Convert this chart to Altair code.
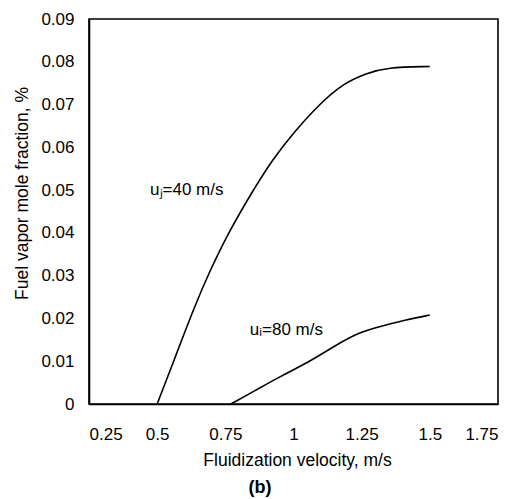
import altair as alt
import pandas as pd

# u_j = 40 m/s curve
x40 = [0.5, 0.572, 0.632, 0.694, 0.767, 0.852, 0.926, 0.999, 1.085, 1.183, 1.268, 1.341, 1.5]
y40 = [0.0, 0.0119, 0.022, 0.0313, 0.0407, 0.050, 0.0574, 0.0633, 0.0695, 0.075, 0.0773, 0.0787, 0.0789]
# u_i = 80 m/s curve
x80 = [0.77, 0.853, 0.95, 1.048, 1.146, 1.243, 1.341, 1.409, 1.5]
y80 = [0.0, 0.0029, 0.0064, 0.0095, 0.0134, 0.0169, 0.0185, 0.0196, 0.0208]

x_ticks = [0.25, 0.5, 0.75, 1, 1.25, 1.5, 1.75]
y_ticks = [0, 0.01, 0.02, 0.03, 0.04, 0.05, 0.06, 0.07, 0.08, 0.09]

label_text = ["u\u2c7c=40 m/s", "u\u1d62=80 m/s"]
label_x = [0.474, 0.84]
label_y = [0.050, 0.0173]

panel_label = ["(b)"]

FONT = "Liberation Sans"

rows = []
for xv, yv in zip(x40, y40):
    rows.append({"x": xv, "y": yv, "series": "40"})
for xv, yv in zip(x80, y80):
    rows.append({"x": xv, "y": yv, "series": "80"})
df = pd.DataFrame(rows)

lab_df = pd.DataFrame({"x": label_x, "y": label_y, "t": label_text})
pan_df = pd.DataFrame({"t": panel_label})

xscale = alt.Scale(domain=[0.25, 1.75], nice=False, zero=False)
yscale = alt.Scale(domain=[0, 0.09], nice=False)

lines = alt.Chart(df).mark_line(color="black", strokeWidth=1.6, interpolate="basis").encode(
    x=alt.X("x:Q", scale=xscale,
            axis=alt.Axis(values=x_ticks, labelExpr="datum.value + ''", title="Fluidization velocity, m/s",
                          titleX=208, titleY=47, titleBaseline="top", titleAnchor="start",
                          titleAlign="center", labelPadding=22)),
    y=alt.Y("y:Q", scale=yscale,
            axis=alt.Axis(values=y_ticks, labelExpr="datum.value + ''", title="Fuel vapor mole fraction, %",
                          titleX=-67, titleY=174, titleAngle=-90, titleBaseline="middle",
                          titleAlign="center", labelPadding=15)),
    detail="series:N",
)

labels = alt.Chart(lab_df).mark_text(align="left", baseline="middle", font=FONT, fontSize=17, color="black").encode(
    x=alt.X("x:Q", scale=xscale),
    y=alt.Y("y:Q", scale=yscale),
    text="t:N",
)

panel = alt.Chart(pan_df).mark_text(align="center", baseline="middle", font=FONT, fontSize=18,
                                    fontWeight="bold", color="black").encode(
    x=alt.value(171), y=alt.value(469), text="t:N"
)

chart = alt.layer(lines, labels, panel).properties(
    width=409, height=385,
    autosize=alt.AutoSizeParams(type="none"),
    padding={"left": 81, "top": 11, "right": 12, "bottom": 95},
).configure_axis(
    grid=False, ticks=True, tickSize=0, domainColor="black", domainWidth=1.6,
    labelFont=FONT, labelFontSize=17, labelColor="black",
    titleFont=FONT, titleFontSize=17.5, titleFontWeight="normal", titleColor="black",
).configure_view(stroke="black", strokeWidth=1.6)

chart.save("out.html", embed_options={"renderer": "svg", "actions": False})
